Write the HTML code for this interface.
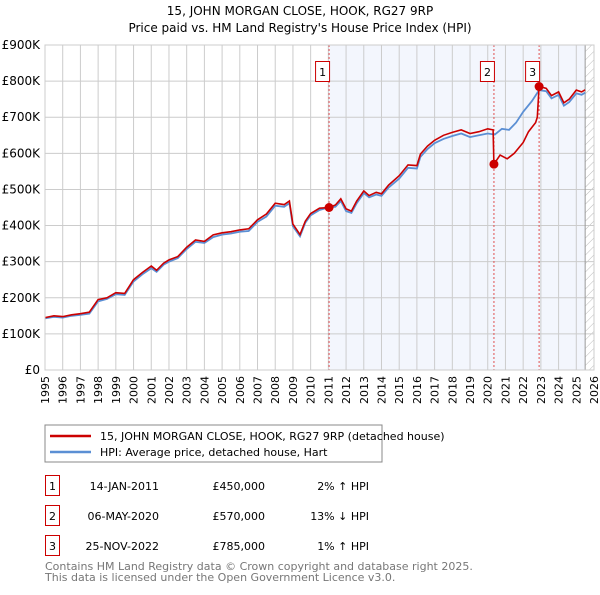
<!DOCTYPE html>
<html><head><meta charset="utf-8"><style>
body{margin:0;background:#fff;font-family:"Liberation Sans","DejaVu Sans",sans-serif;}
svg text{font-family:"DejaVu Sans","Liberation Sans",sans-serif;}
</style></head><body>
<svg id="c" width="600" height="590" xmlns="http://www.w3.org/2000/svg">
<defs><pattern id="hatch" width="6" height="6" patternUnits="userSpaceOnUse" patternTransform="rotate(45)"><line x1="0" y1="0" x2="0" y2="6" stroke="#bbb" stroke-width="1"/></pattern></defs>
<text x="300" y="15" text-anchor="middle" font-size="12" fill="#000">15, JOHN MORGAN CLOSE, HOOK, RG27 9RP</text>
<text x="300" y="32" text-anchor="middle" font-size="12" fill="#000">Price paid vs. HM Land Registry's House Price Index (HPI)</text>
<g id="plot"></g>
<rect x="45" y="425" width="337" height="37" fill="#fff" stroke="#888"/>
<line x1="50" y1="436" x2="91" y2="436" stroke="#cc0000" stroke-width="2.5"/>
<text x="100" y="440" font-size="11">15, JOHN MORGAN CLOSE, HOOK, RG27 9RP (detached house)</text>
<line x1="50" y1="452" x2="91" y2="452" stroke="#5b8fd4" stroke-width="2.5"/>
<text x="100" y="456" font-size="11">HPI: Average price, detached house, Hart</text>
<g font-size="11">
<rect x="45.5" y="475.5" width="14" height="20" fill="none" stroke="#cc0000"/><text x="52.5" y="490" text-anchor="middle">1</text>
<text x="159" y="490" text-anchor="end">14-JAN-2011</text><text x="265" y="490" text-anchor="end">£450,000</text><text x="369" y="490" text-anchor="end">2% ↑ HPI</text>
<rect x="45.5" y="505.5" width="14" height="20" fill="none" stroke="#cc0000"/><text x="52.5" y="520" text-anchor="middle">2</text>
<text x="159" y="520" text-anchor="end">06-MAY-2020</text><text x="265" y="520" text-anchor="end">£570,000</text><text x="369" y="520" text-anchor="end">13% ↓ HPI</text>
<rect x="45.5" y="535.5" width="14" height="20" fill="none" stroke="#cc0000"/><text x="52.5" y="550" text-anchor="middle">3</text>
<text x="159" y="550" text-anchor="end">25-NOV-2022</text><text x="265" y="550" text-anchor="end">£785,000</text><text x="369" y="550" text-anchor="end">1% ↑ HPI</text>
</g>
<text x="45" y="570" font-size="11" fill="#777">Contains HM Land Registry data © Crown copyright and database right 2025.</text>
<text x="45" y="581" font-size="11" fill="#777">This data is licensed under the Open Government Licence v3.0.</text>
</svg>
<script>
const hpiYears=[1995,1995.5,1996,1996.5,1997,1997.5,1998,1998.5,1999,1999.5,2000,2000.5,2001,2001.3,2001.7,2002,2002.5,2003,2003.5,2004,2004.5,2005,2005.5,2006,2006.5,2007,2007.5,2008,2008.5,2008.8,2009,2009.4,2009.7,2010,2010.5,2011,2011.4,2011.7,2012,2012.3,2012.6,2013,2013.3,2013.7,2014,2014.4,2015,2015.5,2016,2016.2,2016.6,2017,2017.5,2018,2018.5,2019,2019.5,2020,2020.4,2020.8,2021.2,2021.6,2022,2022.5,2022.9,2023.3,2023.6,2024,2024.3,2024.6,2025,2025.3,2025.5];
const hpiValues=[143,147,145,150,153,156,190,197,210,208,245,265,282,272,292,300,310,335,355,352,368,375,378,383,385,410,425,455,452,462,398,370,408,428,443,450,452,468,440,435,462,490,478,486,482,505,530,560,558,590,612,628,640,648,655,645,650,655,652,668,665,685,715,745,775,772,752,762,732,742,766,762,768];
const priceYears=[1995,1995.5,1996,1996.5,1997,1997.5,1998,1998.5,1999,1999.5,2000,2000.5,2001,2001.3,2001.7,2002,2002.5,2003,2003.5,2004,2004.5,2005,2005.5,2006,2006.5,2007,2007.5,2008,2008.5,2008.8,2009,2009.4,2009.7,2010,2010.5,2011.04,2011.4,2011.7,2012,2012.3,2012.6,2013,2013.3,2013.7,2014,2014.4,2015,2015.5,2016,2016.2,2016.6,2017,2017.5,2018,2018.5,2019,2019.5,2020,2020.3,2020.35,2020.7,2021.1,2021.5,2022,2022.3,2022.7,2022.8,2022.9,2023.3,2023.6,2024,2024.3,2024.6,2025,2025.3,2025.5];
const priceValues=[145,150,148,153,156,160,195,200,214,212,250,270,288,276,296,305,314,340,360,356,374,380,383,388,391,416,432,462,458,468,404,375,412,433,448,450,457,474,446,440,468,496,483,492,488,512,538,568,566,598,620,636,650,658,665,655,660,668,665,570,595,585,600,630,660,685,700,785,780,760,770,740,750,775,770,776];
const saleYears=[2011.04,2020.35,2022.9];
const saleValues=[450,570,785];
const yTicks=[0,100,200,300,400,500,600,700,800,900];
const yLabels=["£0","£100K","£200K","£300K","£400K","£500K","£600K","£700K","£800K","£900K"];
const xTicks=[1995,1996,1997,1998,1999,2000,2001,2002,2003,2004,2005,2006,2007,2008,2009,2010,2011,2012,2013,2014,2015,2016,2017,2018,2019,2020,2021,2022,2023,2024,2025,2026];

const L=45,R=594,T=45,B=370;
const X=y=>L+(y-1995)*(R-L)/31;
const Y=v=>B-v/900*(B-T);
const NS="http://www.w3.org/2000/svg";
const g=document.getElementById('plot');
function mk(t,a){const e=document.createElementNS(NS,t);for(const k in a)e.setAttribute(k,a[k]);g.appendChild(e);return e;}

let r=mk('rect',{x:X(saleYears[0]),y:T,width:X(2025.5)-X(saleYears[0]),height:B-T,fill:'#f3f6fd'});


let h=mk('rect',{x:X(2025.5),y:T,width:R-X(2025.5),height:B-T,fill:'url(#hatch)'});


xTicks.forEach((t,i)=>{
 let l=mk('line',{x1:X(t),x2:X(t),y1:T,y2:B,stroke:'#ccc','stroke-width':1});
 
 
 let tx=mk('text',{x:0,y:0,'font-size':11,'text-anchor':'end',transform:`translate(${X(t)+4},${B+6}) rotate(-90)`});
 tx.textContent=t;
 
 
});
yTicks.forEach((t,i)=>{
 let l=mk('line',{x1:L,x2:R,y1:Y(t),y2:Y(t),stroke:'#ccc','stroke-width':1});
 
 
 let tx=mk('text',{x:L-5,y:Y(t)+4,'font-size':12,'text-anchor':'end'});
 tx.textContent=yLabels[i];
 
 
});
let sep=mk('line',{x1:X(2025.5),x2:X(2025.5),y1:T,y2:B,stroke:'#999','stroke-width':1});


saleYears.forEach((s,i)=>{
 let l=mk('line',{x1:X(s),x2:X(s),y1:T,y2:B,stroke:'#e05050','stroke-width':1,'stroke-dasharray':'2,2'});
 
 
});
let p1=mk('path',{d:hpiYears.map((y,i)=>(i?'L':'M')+X(y).toFixed(1)+','+Y(hpiValues[i]).toFixed(1)).join(''),fill:'none',stroke:'#5b8fd4','stroke-width':1.8});


let p2=mk('path',{d:priceYears.map((y,i)=>(i?'L':'M')+X(y).toFixed(1)+','+Y(priceValues[i]).toFixed(1)).join(''),fill:'none',stroke:'#cc0000','stroke-width':1.6});


saleYears.forEach((s,i)=>{
 let c=mk('circle',{cx:X(s),cy:Y(saleValues[i]),r:4.5,fill:'#cc0000'});
 
 
 let bx=mk('rect',{x:X(s)-13.5,y:61.5,width:14,height:20,fill:'#fff',stroke:'#cc0000'});
 
 
 let t=mk('text',{x:X(s)-6.5,y:76,'font-size':11,'text-anchor':'middle'});
 t.textContent=i+1;
 
 
});
let fr=mk('rect',{x:L,y:T,width:R-L,height:B-T,fill:'none',stroke:'#ccc'});


</script>
</body></html>
